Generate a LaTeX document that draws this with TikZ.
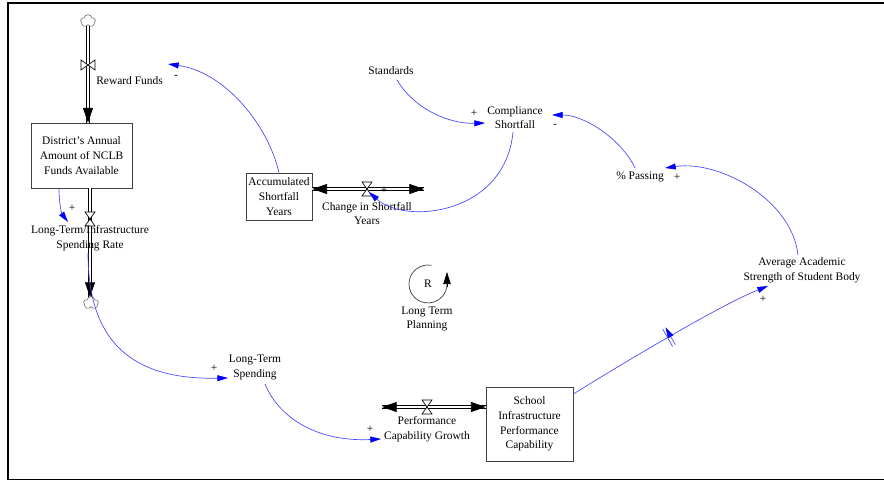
\documentclass[tikz,border=0pt]{standalone}
\usepackage{fontspec}
\setmainfont{Liberation Serif}
\usetikzlibrary{arrows.meta,shapes.symbols,decorations.markings,calc}

\definecolor{linkblue}{RGB}{70,70,255}

\begin{document}
\begin{tikzpicture}[x=0.75pt,y=-0.75pt,
  lbl/.style={font=\fontsize{8.6}{11}\selectfont, align=center, inner sep=0pt},
  stockbox/.style={lbl, draw=black!75, line width=0.6pt},
  sign/.style={font=\fontsize{8.6}{10}\selectfont, inner sep=0pt},
  pipe/.style={draw=black, line width=0.55pt, double=white, double distance=2.2pt},
  pipetip/.style={draw=white, line width=0.5pt, -{Triangle[length=11pt,width=7.5pt,color=black]}},
  link/.style={draw=linkblue, line width=0.5pt, -{Triangle[length=8pt,width=4.5pt,color=blue]}},
  source/.style={cloud, cloud puffs=5, cloud puff arc=160, aspect=1.2, draw=black!65, line width=0.4pt,
                 fill=white, minimum width=11pt, minimum height=9.5pt, inner sep=0pt},
  bowtie/.pic={\draw[fill=white, line width=0.5pt] (-7,-5)--(-7,5)--(7,-5)--(7,5)--cycle;},
  hourglass/.pic={\draw[fill=white, line width=0.5pt] (-5,-7)--(5,-7)--(-5,7)--(5,7)--cycle;},
  delaymark/.style={postaction={decorate}, decoration={markings, mark=at position 0.5 with {
      \draw[linkblue, line width=0.5pt] (-1.2pt,-7.5pt)--(-1.2pt,7.5pt) (1.2pt,-7.5pt)--(1.2pt,7.5pt);}}},
]
\useasboundingbox (0,0) rectangle (884,481);

% frame
\draw[line width=1.5pt] (884,3.5) -- (8,3.5) -- (8,480);
\draw[line width=1.1pt] (8,479.5) -- (884,479.5);

% stocks
\node[stockbox, minimum width=75.75pt, minimum height=48.75pt] (district) at (81.5,155.5)
  {District's Annual\\Amount of NCLB\\Funds Available};
\node[stockbox, minimum width=49.5pt, minimum height=35.25pt] (accum) at (279,196.5)
  {Accumulated\\Shortfall\\Years};
\node[stockbox, minimum width=65.25pt, minimum height=55.5pt] (school) at (529.5,424)
  {School\\Infrastructure\\Performance\\Capability};

% valve positions and pipe ends
\coordinate (cloudtoppos) at (88,21);
\coordinate (cloudbotpos) at (91,303);
\coordinate (vreward) at (88,65);
\coordinate (vrate) at (90,219);
\coordinate (vchange) at (367,189);
\coordinate (vgrowth) at (427,407);
\coordinate (rewardin) at (cloudtoppos |- district.north);
\coordinate (rateout) at (vrate |- district.south);
\coordinate (ratein) at (90,297);
\coordinate (changein) at (accum.east |- vchange);
\coordinate (changeend) at (424,189);
\coordinate (growthend) at (382,407);
\coordinate (growthin) at (school.west |- vgrowth);

% flow pipes
\draw[pipe] (cloudtoppos) -- (rewardin);
\draw[pipetip] ($(rewardin)+(0,-16)$) -- (rewardin);
\draw[pipe] (rateout) -- (ratein);
\draw[pipetip] ($(ratein)+(0,-16)$) -- (ratein);
\draw[pipe] (changein) -- (changeend);
\draw[pipetip] ($(changein)+(16,0)$) -- (changein);
\draw[pipetip] ($(changeend)+(-16,0)$) -- (changeend);
\draw[pipe] (growthend) -- (growthin);
\draw[pipetip] ($(growthend)+(16,0)$) -- (growthend);
\draw[pipetip] ($(growthin)+(-16,0)$) -- (growthin);

% sources and sinks
\node[source] (cloudtop) at (cloudtoppos) {};
\node[source] (cloudbot) at (cloudbotpos) {};

% valves
\pic at (vreward) {bowtie};
\pic at (vrate) {hourglass};
\pic at (vchange) {hourglass};
\pic at (vgrowth) {hourglass};

% variables
\node[lbl, anchor=west] (reward) at (96,81) {Reward Funds};
\node[lbl] (rate) at (90,238.5) {Long-Term/Infrastructure\\Spending Rate};
\node[lbl] (change) at (367,213.5) {Change in Shortfall\\Years};
\node[lbl] (standards) at (391,71) {Standards};
\node[lbl] (compliance) at (515,117.5) {Compliance\\Shortfall};
\node[lbl] (passing) at (640,177) {\% Passing};
\node[lbl] (avg) at (802,270.5) {Average Academic\\Strength of Student Body};
\node[lbl] (ltspend) at (255,367.5) {Long-Term\\Spending};
\node[lbl] (growth) at (427,429) {Performance\\Capability Growth};

% causal links
\draw[link] ($(district.center)+(-22.5,33.5)$) .. controls (59,205) and (62,214) .. ($(rate.center)+(-22,-16.5)$);
\draw[link] ($(rate.center)+(-2,14.5)$) .. controls (88,340) and (130,380) .. ($(ltspend.center)+(-27,10.5)$);
\draw[link] ($(ltspend.center)+(10,16.5)$) .. controls (280,420) and (320,442) .. ($(growth.center)+(-46,10)$);
\draw[link, delaymark] ($(school.east)+(0,-30)$) .. controls (620,365) and (720,305) .. ($(avg.center)+(-34,15.5)$);
\draw[link] ($(avg.center)+(-4,-15.5)$) .. controls (792,200) and (720,160) .. ($(passing.center)+(25,-9)$);
\draw[link] ($(passing.center)+(-5,-9)$) .. controls (622,140) and (585,115) .. ($(compliance.center)+(37,-2.5)$);
\draw[link] ($(standards.center)+(6,9)$) .. controls (415,110) and (450,124) .. ($(compliance.center)+(-30,5.5)$);
\draw[link] ($(compliance.center)+(-2,14.5)$) .. controls (505,215) and (405,225) .. ($(vchange)+(2,3)$);
\draw[link] (accum.north) .. controls (268,125) and (225,72) .. ($(reward.west)+(72,-17)$);

% link polarities
\node[sign] (s1) at (176,77) {-};
\node[sign] (s2) at (72,208) {+};
\node[sign] (s3) at (214,368) {+};
\node[sign] (s4) at (370,429) {+};
\node[sign] (s5) at (763,299) {+};
\node[sign] (s6) at (677,177) {+};
\node[sign] (s7) at (555,126) {-};
\node[sign] (s8) at (474,113) {+};
\node[sign] (s9) at (384,190) {+};

% reinforcing loop marker
\node[lbl] (loopR) at (428,284) {R};
\node[lbl] (looptext) at (427,319) {Long Term\\Planning};
\draw[black!80, line width=0.5pt] (loopR.center) ++(-80:19) arc[start angle=-80, end angle=-360, radius=19];
\draw[line width=0.5pt, -{Triangle[length=9pt,width=5.5pt]}] ($(loopR.center)+(19,3)$) -- ($(loopR.center)+(19,-12)$);
\end{tikzpicture}
\end{document}
